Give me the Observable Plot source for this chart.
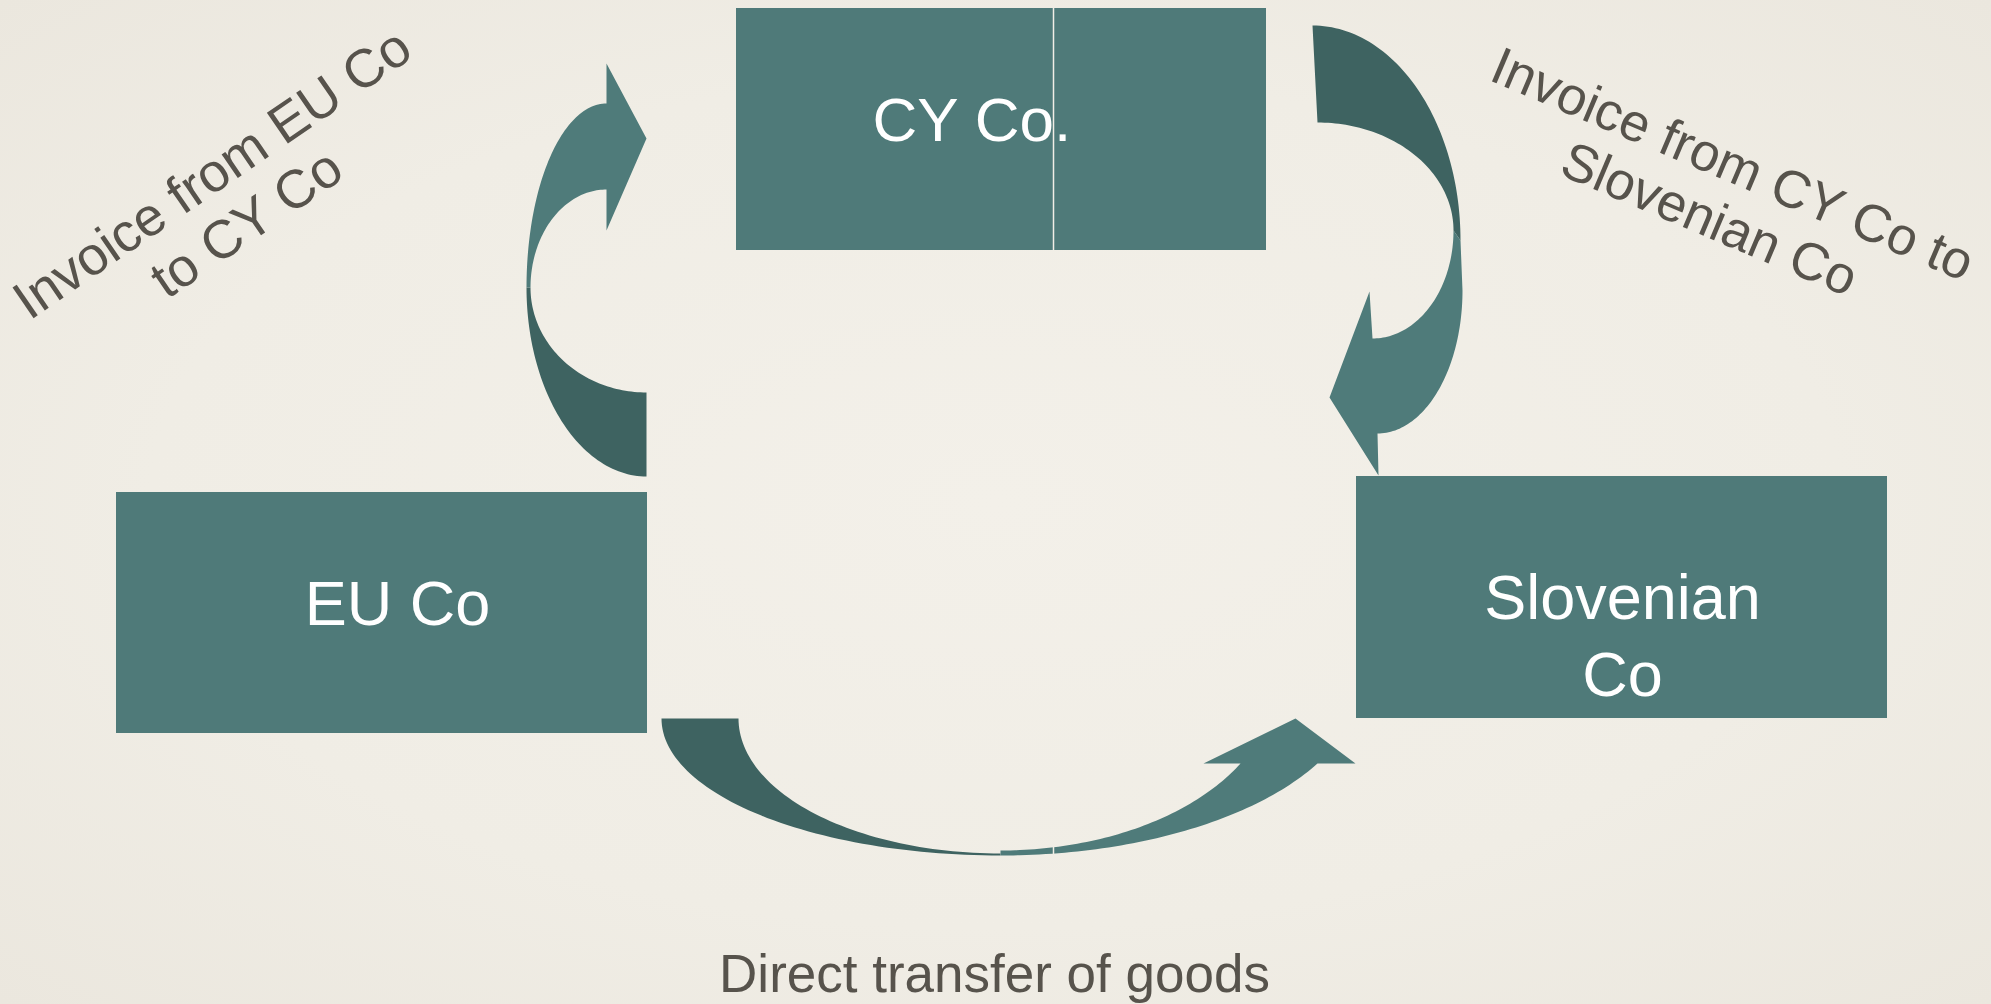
<!DOCTYPE html>
<html>
<head>
<meta charset="utf-8">
<script src="https://cdn.jsdelivr.net/npm/d3@7"></script>
<script src="https://cdn.jsdelivr.net/npm/@observablehq/plot@0.6"></script>
<style>
  html, body { margin: 0; padding: 0; overflow: hidden; }
  body { width: 1991px; height: 1004px; background: radial-gradient(ellipse at 50% 50%, #f3f0e9 0%, #f0ede5 60%, #ebe7de 100%); }
  #chart svg { display: block; background: transparent; }
</style>
</head>
<body>
<div id="chart"></div>
<script>
// ---- Diagram content ----
const boxNames = ["CY Co.", "EU Co", "Slovenian Co"];
const boxX1 = [736, 116, 1356];
const boxX2 = [1266, 647, 1887];
const boxY1 = [8, 492, 476];
const boxY2 = [250, 733, 718];

const boxLabels = ["CY Co.", "EU Co", "Slovenian\nCo"];
const boxLabelX = [872, 397, 1622];
const boxLabelY = [140, 624, 695];
const boxLabelAnchor = ["start", "middle", "middle"];

const flowLabels = ["Invoice from EU Co\nto CY Co", "Invoice from CY Co to\nSlovenian Co", "Direct transfer of goods"];
const flowLabelX = [228, 1721, 994];
const flowLabelY = [197, 190, 991];
const flowLabelRotate = [-34.5, 23, 0];
const flowLabelSize = [54, 53, 53];

// divider line (thin seam)
const seams = [{x: 1053, y1: 8, y2: 250}, {x: 1053, y1: 847, y2: 856}];

// Arrow outlines: arcs [cx, cy, rx, ry, startDeg, endDeg] and corner points [x, y]
const leftArrowDark = [
  {arc: [646, 287, 120, 189, 90, 180]},
  {arc: [646, 287, 116, 105, 180, 90]}
];
const leftArrowLight = [
  {arc: [606, 287, 80, 184, 180, 270]},
  {pt: [606, 63]}, {pt: [646, 138]}, {pt: [606, 230]}, {pt: [606, 189]},
  {arc: [606, 287, 76, 98, 270, 180]}
];
const rightArrowDark = [
  {arc: [1312, 240, 148, 215, 270, 360]},
  {arc: [1317, 230, 136, 108, 360, 270]}
];
const rightArrowLight = [
  {pt: [1460, 240]},
  {arc: [1377, 290, 85, 143, 0, 90]},
  {pt: [1378, 475]}, {pt: [1329, 397]}, {pt: [1369, 291]},
  {arc: [1372, 230, 81, 108, 90, 0]}
];
const bottomArrowDark = [
  {pt: [661, 718]}, {pt: [738, 718]},
  {arc: [1000, 718, 262, 135, 180, 90]},
  {arc: [1000, 718, 339, 137, 90, 180]}
];
const bottomArrowLight = [
  {arc: [1000, 680, 360, 175, 90, 28.3]},
  {pt: [1355, 763]}, {pt: [1295, 718]}, {pt: [1203, 763]},
  {arc: [1000, 680, 275, 170, 29.2, 90]}
];

const colBox = "#4f7a79";
const colDark = "#3e6361";
const colLight = "#4f7b7a";
const colText = "#57534c";
const colBg = "#f1eee6";

// ---- build tables for the library ----
function outline(id, segs) {
  const out = [];
  for (const s of segs) {
    if (s.pt) out.push({id, x: s.pt[0], y: s.pt[1]});
    else {
      const [cx, cy, rx, ry, a0, a1] = s.arc;
      const n = 60;
      for (let i = 0; i <= n; i++) {
        const t = (a0 + (a1 - a0) * i / n) * Math.PI / 180;
        out.push({id, x: cx + rx * Math.cos(t), y: cy + ry * Math.sin(t)});
      }
    }
  }
  out.push({...out[0]});
  return out;
}
const darkShapes = [
  ...outline("ld", leftArrowDark),
  ...outline("rd", rightArrowDark),
  ...outline("bd", bottomArrowDark)
];
const lightShapes = [
  ...outline("ll", leftArrowLight),
  ...outline("rl", rightArrowLight),
  ...outline("bl", bottomArrowLight)
];
const boxes = boxNames.map((n, i) => ({name: n, x1: boxX1[i], x2: boxX2[i], y1: boxY1[i], y2: boxY2[i]}));
const labels = boxLabels.map((t, i) => ({t, x: boxLabelX[i], y: boxLabelY[i], a: boxLabelAnchor[i]}));
const flows = flowLabels.map((t, i) => ({t, x: flowLabelX[i], y: flowLabelY[i], r: flowLabelRotate[i], s: flowLabelSize[i]}));

const font = "'Liberation Sans', Arial, Helvetica, sans-serif";

const chart = Plot.plot({
  width: 1991,
  height: 1004,
  margin: 0,
  x: {domain: [0, 1991], range: [0, 1991], axis: null},
  y: {domain: [0, 1004], range: [0, 1004], axis: null},
  style: {fontFamily: font, background: "transparent"},
  marks: [
    Plot.rect(boxes, {x1: "x1", x2: "x2", y1: "y1", y2: "y2", fill: colBox}),
    Plot.line(darkShapes, {x: "x", y: "y", z: "id", fill: colDark, stroke: "none", curve: "linear"}),
    Plot.line(lightShapes, {x: "x", y: "y", z: "id", fill: colLight, stroke: "none", curve: "linear"}),
    Plot.ruleX(seams, {x: "x", y1: "y1", y2: "y2", stroke: colBg, strokeWidth: 1.5}),
    Plot.text(labels.filter(d => d.a === "start"), {x: "x", y: "y", text: "t", textAnchor: "start", lineAnchor: "bottom", fill: "#ffffff", fontSize: 62, fontFamily: font}),
    Plot.text(labels.filter(d => d.a === "middle"), {x: "x", y: "y", text: "t", textAnchor: "middle", lineAnchor: "bottom", lineHeight: 1.21, fill: "#ffffff", fontSize: 63, fontFamily: font}),
    Plot.text(flows.filter(d => d.r < 0), {x: "x", y: "y", text: "t", rotate: "r", textAnchor: "middle", lineAnchor: "middle", lineHeight: 1.12, fill: colText, fontSize: flowLabelSize[0], fontFamily: font}),
    Plot.text(flows.filter(d => d.r > 0), {x: "x", y: "y", text: "t", rotate: "r", textAnchor: "middle", lineAnchor: "middle", lineHeight: 1.12, fill: colText, fontSize: flowLabelSize[1], fontFamily: font}),
    Plot.text(flows.filter(d => d.r === 0), {x: "x", y: "y", text: "t", textAnchor: "middle", lineAnchor: "bottom", fill: colText, fontSize: flowLabelSize[2], fontFamily: font})
  ]
});
document.getElementById("chart").appendChild(chart);
</script>
</body>
</html>
